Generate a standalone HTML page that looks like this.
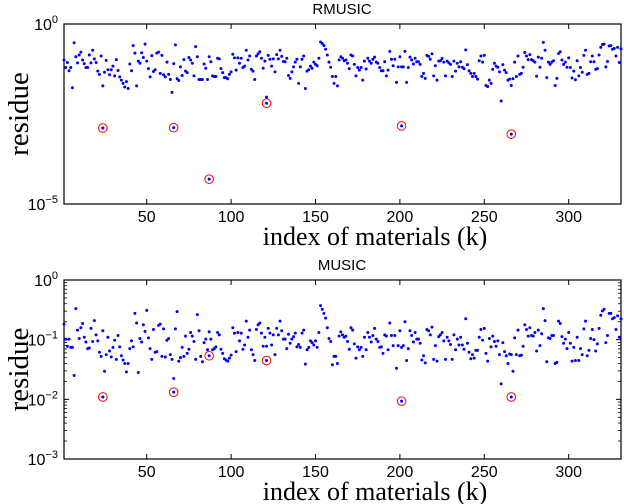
<!DOCTYPE html>
<html><head><meta charset="utf-8"><style>
html,body{margin:0;padding:0;background:#fff;}
svg{display:block;}
.tk{font-family:"Liberation Sans",sans-serif;font-size:16px;fill:#000;}
.ttl{font-family:"Liberation Sans",sans-serif;font-size:15px;fill:#000;}
.lab{font-family:"Liberation Serif",serif;font-size:26px;fill:#000;}
.ylab{font-family:"Liberation Serif",serif;font-size:29px;fill:#000;}
</style></head><body>
<svg id="chart" width="624" height="504" viewBox="0 0 624 504"></svg>
<script>
// x categories: material index 1..N ; values stored as log10(residue)
const rmusicLog = [-1.00,-1.21,-1.07,-1.30,-1.21,-1.77,-0.52,-0.91,-1.08,-0.86,-0.78,-1.00,-1.10,-1.21,-1.21,-0.86,-1.08,-0.73,-0.97,-1.07,-1.31,-1.40,-0.89,-1.72,-1.34,-1.01,-1.27,-1.41,-1.27,-1.17,-1.44,-0.99,-1.29,-1.47,-1.56,-1.65,-1.75,-1.60,-1.79,-1.11,-1.30,-0.60,-0.81,-1.72,-1.03,-1.09,-0.80,-0.93,-0.56,-1.03,-1.24,-1.47,-0.88,-1.32,-1.27,-0.81,-0.78,-1.37,-0.87,-1.41,-1.47,-1.06,-1.40,-1.54,-1.90,-1.10,-0.58,-1.52,-1.57,-1.19,-1.43,-0.99,-1.31,-1.35,-0.93,-1.00,-1.09,-1.44,-0.63,-0.91,-1.54,
-1.54,-1.54,-1.11,-1.23,-1.54,-0.91,-1.05,-1.44,-1.46,-1.46,-0.95,-0.97,-1.24,-1.35,-1.49,-1.49,-1.52,-1.40,-1.33,-0.84,-0.94,-1.28,-0.94,-1.09,-0.95,-1.21,-1.17,-0.73,-1.00,-0.89,-1.26,-1.31,-1.54,-0.89,-0.83,-0.77,-0.95,-1.23,-1.03,-2.03,-0.87,-0.98,-1.17,-0.97,-1.33,-0.85,-0.97,-0.73,-0.90,-1.04,-1.05,-0.95,-1.43,-1.51,-1.33,-1.19,-1.06,-0.98,-1.65,-1.19,-0.98,-0.89,-1.79,-1.31,-1.27,-1.17,-1.23,-1.06,-1.12,-1.16,-0.95,-0.50,-0.54,-0.60,-0.70,-0.86,-1.06,-1.20,-1.46,-1.65,
-1.46,-1.72,-1.00,-0.91,-0.95,-1.02,-1.00,-1.09,-1.24,-0.86,-0.89,-1.12,-1.44,-1.21,-1.28,-1.21,-1.56,-1.03,-1.25,-0.95,-1.03,-1.09,-0.98,-0.92,-1.06,-1.09,-1.21,-1.30,-1.30,-1.05,-1.44,-1.28,-0.76,-0.98,-1.16,-0.98,-1.62,-1.19,-0.91,-1.19,-1.19,-0.76,-1.62,-1.21,-0.92,-1.00,-1.11,-0.95,-1.05,-1.05,-1.12,-1.46,-1.37,-1.51,-0.87,-0.90,-0.98,-0.83,-1.44,-1.16,-1.56,-1.03,-1.02,-0.96,-1.06,-1.44,-1.03,-1.08,-1.12,-1.46,-1.03,-1.31,-1.09,-1.19,-1.05,-1.20,-1.24,-0.72,-1.13,-1.30,-1.37,-1.46,-1.37,-1.46,
-1.53,-1.02,-0.89,-1.06,-0.87,-1.71,-1.74,-1.56,-1.65,-1.26,-1.09,-1.17,-1.20,-1.33,-2.14,-1.13,-1.28,-1.35,-1.56,-1.53,-1.71,-1.52,-1.06,-1.46,-0.89,-1.40,-1.37,-1.20,-0.79,-0.89,-0.99,-0.85,-0.99,-1.02,-1.06,-1.45,-0.92,-1.20,-0.95,-0.51,-0.73,-1.49,-1.06,-1.12,-1.06,-1.02,-1.71,-1.51,-0.82,-0.77,-1.00,-1.12,-1.06,-1.20,-0.94,-1.21,-1.50,-1.31,-1.55,-1.02,-1.44,-1.21,-1.34,-0.87,-0.73,-1.40,-1.37,-1.05,-0.89,-1.05,-1.26,-1.24,-0.86,-0.65,-0.57,-0.56,-1.19,-1.04,-0.61,-0.60,-0.70,-0.68,-0.89,-0.65,-1.07,-0.69];
const rmusicOutIdx = [24,66,87,121,201,266];
const rmusicOutLog = [-2.89,-2.88,-4.31,-2.20,-2.83,-3.06];

const musicLog = [-0.74,-0.99,-1.11,-0.99,-1.13,-1.13,-1.60,-0.48,-0.84,-0.98,-0.80,-0.73,-0.96,-1.04,-1.15,-1.14,-0.81,-1.03,-0.68,-0.92,-1.02,-1.21,-1.28,-0.85,-1.53,-1.25,-0.96,-1.19,-1.29,-1.13,-1.01,-1.33,-0.93,-1.12,-1.27,-1.34,-1.40,-1.54,-1.40,-1.15,-1.02,-1.12,-0.56,-0.72,-1.55,-0.98,-1.04,-0.75,-0.86,-0.51,-0.97,-1.15,-1.33,-0.83,-1.21,-1.20,-0.76,-0.74,-1.28,-0.82,-1.29,-1.01,-0.98,-1.25,-1.33,-1.65,-0.82,-0.53,-1.36,-1.30,-1.13,-1.28,-0.94,-1.23,-1.16,-0.88,-0.94,-1.03,-1.33,-0.58,-0.85,-1.28,
-1.37,-1.05,-0.99,-1.17,-0.87,-0.99,-1.17,-1.15,-1.12,-0.88,-0.92,-1.16,-1.23,-1.32,-1.34,-1.36,-1.31,-1.26,-0.80,-0.89,-1.20,-0.88,-1.02,-0.89,-1.16,-1.09,-0.69,-0.96,-0.84,-1.17,-1.25,-1.35,-0.83,-0.75,-0.72,-0.89,-1.11,-0.96,-1.11,-0.81,-0.89,-1.09,-0.92,-1.25,-0.81,-0.92,-0.69,-0.85,-0.99,-0.99,-1.15,-0.91,-1.06,-0.99,-0.95,-0.89,-1.12,-1.08,-1.13,-0.89,-0.84,-1.41,-1.17,-1.13,-1.02,-1.05,-1.09,-1.02,-1.13,-0.88,-0.43,-0.49,-0.56,-0.64,-0.80,-0.98,-1.03,-1.42,-1.28,
-1.28,-1.40,-0.94,-0.87,-0.92,-0.96,-0.94,-1.03,-1.16,-0.80,-0.84,-1.07,-1.31,-1.12,-1.17,-1.13,-1.28,-0.96,-1.17,-0.88,-0.96,-1.04,-0.93,-0.81,-0.99,-1.03,-1.13,-1.12,-1.23,-0.92,-0.94,-1.17,-0.72,-0.93,-1.10,-0.93,-1.48,-1.10,-0.85,-1.13,-1.10,-0.70,-1.35,-1.15,-0.85,-0.93,-1.04,-0.88,-0.99,-0.99,-1.06,-1.34,-1.27,-1.39,-0.83,-0.85,-0.92,-0.79,-1.33,-1.10,-1.36,-0.95,-0.92,-0.88,-1.02,-1.33,-0.96,-1.02,-1.08,-1.33,-0.92,-1.17,-0.99,-1.09,-0.96,-1.09,-1.16,-0.65,-1.06,-1.21,-1.32,-1.25,-1.31,-1.18,
-1.18,-0.96,-0.83,-1.01,-0.81,-1.23,-1.36,-0.98,-1.12,-0.94,-1.03,-1.11,-1.02,-1.25,-1.74,-1.05,-1.20,-1.27,-1.40,-1.24,-1.25,-1.53,-0.97,-1.25,-0.84,-1.27,-1.26,-1.11,-0.75,-0.83,-0.94,-0.80,-0.93,-0.94,-0.88,-1.19,-0.84,-1.10,-0.90,-0.48,-0.68,-1.37,-0.97,-0.98,-0.93,-0.93,-1.40,-1.38,-0.69,-0.73,-0.95,-1.06,-0.99,-1.15,-0.88,-1.06,-1.36,-1.13,-1.35,-0.96,-1.35,-1.15,-1.25,-0.82,-0.69,-1.27,-1.18,-0.98,-0.83,-1.00,-1.19,-1.07,-0.81,-0.59,-0.52,-0.49,-1.05,-0.93,-0.56,-0.56,-0.65,-0.63,-0.83,-0.60,-0.96,-0.65];
const musicOutIdx = [24,66,87,121,201,266];
const musicOutLog = [-1.96,-1.88,-1.27,-1.35,-2.03,-1.96];

const xTicks = [50,100,150,200,250,300];
const topYTicks = [0,-5];
const botYTicks = [0,-1,-2,-3];

const NS='http://www.w3.org/2000/svg';
const svg=document.getElementById('chart');
function mk(tag,attrs,parent){const e=document.createElementNS(NS,tag);for(const k in attrs)e.setAttribute(k,attrs[k]);(parent||svg).appendChild(e);return e;}

const X0=64,X1=621,XMIN=1,XMAX=331;
function xs(v){return X0+(v-XMIN)/(XMAX-XMIN)*(X1-X0);}

function panel(o){
  const g=mk('g',{});
  
  
  const ys=e=>o.top+(o.eMax-e)/(o.eMax-o.eMin)*(o.bot-o.top);
  const t=mk('text',{x:342,y:o.top-10,'text-anchor':'middle',class:'ttl'},g);t.textContent=o.title;
  
  
  if(o.minor){for(let d=o.eMin;d<o.eMax;d++){for(let m=2;m<=9;m++){const y=ys(d+Math.log10(m));mk('line',{x1:X0,x2:X0+3,y1:y,y2:y,stroke:'#000','stroke-width':0.8},g);mk('line',{x1:X1,x2:X1-3,y1:y,y2:y,stroke:'#000','stroke-width':0.8},g);}}}
  o.yt.forEach(e=>{const y=ys(e);
    mk('line',{x1:X0,x2:X0+5,y1:y,y2:y,stroke:'#000'},g);mk('line',{x1:X1,x2:X1-5,y1:y,y2:y,stroke:'#000'},g);
    const tx=mk('text',{x:X0-6,y:y+6,'text-anchor':'end',class:'tk'},g);
    
    
    const a=document.createElementNS(NS,'tspan');a.textContent='10';tx.appendChild(a);
    const b=document.createElementNS(NS,'tspan');b.setAttribute('dy','-7');b.setAttribute('font-size','11');b.textContent=(e<0?'\u2212'+(-e):String(e));tx.appendChild(b);
  });
  xTicks.forEach(v=>{const x=xs(v);
    mk('line',{x1:x,x2:x,y1:o.bot,y2:o.bot-5,stroke:'#000'},g);mk('line',{x1:x,x2:x,y1:o.top,y2:o.top+5,stroke:'#000'},g);
    const tx=mk('text',{x:x,y:o.bot+18,'text-anchor':'middle',class:'tk'},g);tx.textContent=v;
    
    
  });
  const fr=mk('rect',{x:X0,y:o.top,width:X1-X0,height:o.bot-o.top,fill:'none',stroke:'#000','stroke-width':1.2},g);
  
  
  o.data.forEach((e,i)=>{const c=mk('circle',{cx:xs(i+1),cy:ys(e),r:1.5,fill:'#0000ff'},g);
    
    });
  o.oi.forEach((k,i)=>{const y=ys(o.ol[i]);
    const c=mk('circle',{cx:xs(k),cy:y,r:4.3,fill:'none',stroke:'#ff0000','stroke-width':1},g);
    
    
    const d=mk('circle',{cx:xs(k),cy:y,r:1.5,fill:'#0000ff'},g);
    
    });
  const xl=mk('text',{x:375,y:o.bot+41,'text-anchor':'middle',class:'lab'},g);xl.textContent='index of materials (k)';
  
  
  const cy=(o.top+o.bot)/2;
  const yl=mk('text',{x:28,y:cy,'text-anchor':'middle',class:'ylab',transform:'rotate(-90 28 '+cy+')'},g);yl.textContent='residue';
  
  
}
panel({name:'rmusic-panel',title:'RMUSIC',top:24,bot:204,eMax:0,eMin:-5,yt:topYTicks,minor:false,data:rmusicLog,oi:rmusicOutIdx,ol:rmusicOutLog});
panel({name:'music-panel',title:'MUSIC',top:280,bot:459,eMax:0,eMin:-3,yt:botYTicks,minor:true,data:musicLog,oi:musicOutIdx,ol:musicOutLog});
</script>
</body></html>
